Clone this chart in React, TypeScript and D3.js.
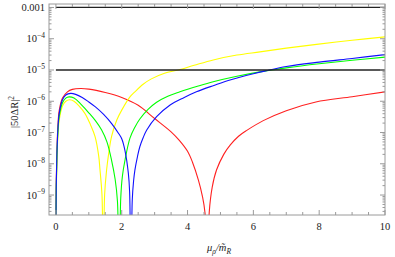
import { useEffect, useRef } from 'react';
import * as d3 from 'd3';

type Pt = [number, number];

// |50 ΔR|^2, [mu/m, value]
const redSeries: Pt[] = [
  [0.002, 1.26e-10], [0.01, 2.5e-9], [0.03, 2.5e-8], [0.06, 1.6e-7], [0.1, 5.0e-7],
  [0.2, 1.26e-6], [0.35, 2.0e-6], [0.5, 2.4e-6], [0.75, 2.57e-6], [1.0, 2.45e-6],
  [1.5, 1.9e-6], [2.0, 1.32e-6], [2.5, 7.4e-7], [3.0, 2.8e-7], [3.5, 1.05e-7],
  [3.75, 5.6e-8], [4.0, 2.5e-8], [4.15, 1.12e-8], [4.33, 3.0e-9], [4.45, 9.3e-10],
  [4.53, 2.7e-10], [4.6, 1e-12], [4.66, 2.9e-10], [4.75, 1.8e-9], [4.88, 6.3e-9],
  [5.1, 2.0e-8], [5.3, 4.0e-8], [5.55, 7.6e-8], [5.8, 1.17e-7], [6.3, 2.4e-7],
  [7.0, 5.0e-7], [7.9, 9.5e-7], [9.0, 1.4e-6], [10, 2.0e-6],
];

const blueSeries: Pt[] = [
  [0.002, 1e-10], [0.01, 2e-9], [0.03, 2e-8], [0.06, 1.26e-7], [0.1, 4e-7],
  [0.2, 1.12e-6], [0.3, 1.58e-6], [0.45, 1.78e-6], [0.6, 1.66e-6], [0.8, 1.32e-6],
  [1.0, 9.5e-7], [1.2, 6.6e-7], [1.45, 3.8e-7], [1.7, 1.9e-7], [1.9, 9.5e-8],
  [2.0, 6.3e-8], [2.1, 2.6e-8], [2.2, 5.1e-9], [2.24, 1.26e-9], [2.28, 1e-12],
  [2.32, 6.9e-10], [2.36, 2.8e-9], [2.4, 6.3e-9], [2.48, 1.74e-8], [2.55, 3.5e-8],
  [2.65, 6.8e-8], [2.76, 1.2e-7], [3.06, 3.2e-7], [3.47, 7.6e-7], [3.9, 1.32e-6],
  [4.27, 2e-6], [4.8, 3.2e-6], [5.29, 4.8e-6], [6.0, 7.6e-6], [6.4, 9.5e-6],
  [7.0, 1.29e-5], [8.0, 1.78e-5], [9.0, 2.34e-5], [10, 3.1e-5],
];

const greenSeries: Pt[] = [
  [0.002, 7.9e-11], [0.01, 1.58e-9], [0.03, 1.58e-8], [0.06, 1e-7], [0.1, 3.2e-7],
  [0.2, 8.9e-7], [0.3, 1.26e-6], [0.4, 1.38e-6], [0.55, 1.26e-6], [0.75, 8.3e-7],
  [0.98, 4.5e-7], [1.2, 2.4e-7], [1.39, 1.2e-7], [1.55, 5e-8], [1.69, 1.32e-8],
  [1.8, 3.2e-9], [1.87, 6.3e-10], [1.92, 1e-12], [1.97, 7.9e-10], [2.02, 4e-9],
  [2.1, 1.32e-8], [2.25, 6.6e-8], [2.4, 1.48e-7], [2.55, 2.7e-7], [2.8, 5.5e-7],
  [3.06, 9.3e-7], [3.4, 1.45e-6], [3.77, 2e-6], [4.3, 3e-6], [4.78, 4.2e-6],
  [5.5, 6.3e-6], [6.2, 8.7e-6], [7.0, 1.17e-5], [8.0, 1.58e-5], [9.0, 2.04e-5],
  [10, 2.57e-5],
];

const yellowSeries: Pt[] = [
  [0.002, 6.3e-11], [0.01, 1.26e-9], [0.03, 1.26e-8], [0.06, 7.9e-8], [0.1, 2.5e-7],
  [0.2, 7.1e-7], [0.3, 1e-6], [0.42, 1.12e-6], [0.55, 1e-6], [0.7, 7.1e-7],
  [0.88, 4.1e-7], [1.05, 1.78e-7], [1.19, 7.4e-8], [1.3, 1.78e-8], [1.34, 6.3e-9],
  [1.4, 1e-9], [1.44, 1e-12], [1.48, 1e-9], [1.54, 6.3e-9], [1.6, 2e-8],
  [1.69, 7.4e-8], [1.85, 2.5e-7], [2.0, 5.2e-7], [2.25, 1.38e-6], [2.4, 2e-6],
  [2.65, 3.5e-6], [2.9, 5.2e-6], [3.3, 7.9e-6], [3.72, 1.0e-5], [4.2, 1.41e-5],
  [4.78, 2.1e-5], [5.5, 3e-5], [6.2, 3.8e-5], [7.0, 5e-5], [7.92, 6.6e-5],
  [9.0, 8.9e-5], [10, 1.15e-4],
];

const seriesList = [
  { name: 'red', color: '#ff2020', data: redSeries },
  { name: 'yellow', color: '#ffff00', data: yellowSeries },
  { name: 'green', color: '#00ff00', data: greenSeries },
  { name: 'blue', color: '#1010ff', data: blueSeries },
];

const refLines = [1e-3, 1e-5];
const xTicks = [0, 2, 4, 6, 8, 10];
const yTicks = [1e-3, 1e-4, 1e-5, 1e-6, 1e-7, 1e-8, 1e-9];
const yTickExps = ['', '\u22124', '\u22125', '\u22126', '\u22127', '\u22128', '\u22129'];

export default function App() {
  const svgRef = useRef<SVGSVGElement>(null);
  const width = 395;
  const height = 257;

  useEffect(() => {
    if (!svgRef.current) return;
    const svg = d3.select(svgRef.current);
    svg.selectAll('*').remove();

    const left = 49, right = 385, top = 4, bottom = 215;
    const frameColor = '#9a9a9a';
    const font = 'Liberation Serif, Tinos, Times New Roman, Times, DejaVu Serif, serif';

    const x = d3.scaleLinear().domain([-0.21, 10]).range([left, right]);
    const y = d3.scaleLog().domain([2.3e-10, 1.29e-3]).range([bottom, top]);

    svg.append('defs').append('clipPath').attr('id', 'plotclip')
      .append('rect')
      .attr('x', left).attr('y', top)
      .attr('width', right - left).attr('height', bottom - top);

    const plot = svg.append('g').attr('clip-path', 'url(#plotclip)');

    // curves
    const line = d3.line<Pt>()
      .x(d => x(d[0]))
      .y(d => y(d[1]))
      .curve(d3.curveCatmullRom.alpha(0.5));

    seriesList.forEach(s => {
      plot.append('path')
        .attr('d', line(s.data) as string)
        .attr('fill', 'none')
        .attr('stroke', s.color)
        .attr('stroke-width', 1.1);
    });

    // horizontal reference lines
    plot.selectAll('line.ref')
      .data(refLines)
      .enter()
      .append('line')
      .attr('class', 'ref')
      .attr('x1', x(0)).attr('x2', x(10))
      .attr('y1', d => y(d)).attr('y2', d => y(d))
      .attr('stroke', '#222')
      .attr('stroke-width', 1.3);

    // frame
    svg.append('rect')
      .attr('x', left).attr('y', top)
      .attr('width', right - left).attr('height', bottom - top)
      .attr('fill', 'none')
      .attr('stroke', frameColor)
      .attr('stroke-width', 1);

    // x ticks (bottom + top, inward)
    const xMinor = d3.range(0, 10.01, 0.5);
    xMinor.forEach(v => {
      const major = Math.abs(v % 2) < 1e-6;
      const len = major ? 5 : 3;
      svg.append('line')
        .attr('x1', x(v)).attr('x2', x(v))
        .attr('y1', bottom).attr('y2', bottom - len)
        .attr('stroke', frameColor);
      svg.append('line')
        .attr('x1', x(v)).attr('x2', x(v))
        .attr('y1', top).attr('y2', top + len)
        .attr('stroke', frameColor);
    });

    // y ticks (left + right, inward)
    const yMinor: number[] = [];
    for (let e = -10; e <= -3; e++) {
      for (let m = 1; m <= 9; m++) {
        const v = m * Math.pow(10, e);
        if (v >= 2.3e-10 && v <= 1.29e-3) yMinor.push(v);
      }
    }
    yMinor.forEach(v => {
      const major = Math.abs(Math.log10(v) - Math.round(Math.log10(v))) < 1e-6;
      const len = major ? 5 : 2.5;
      svg.append('line')
        .attr('x1', left).attr('x2', left + len)
        .attr('y1', y(v)).attr('y2', y(v))
        .attr('stroke', frameColor);
      svg.append('line')
        .attr('x1', right).attr('x2', right - len)
        .attr('y1', y(v)).attr('y2', y(v))
        .attr('stroke', frameColor);
    });

    // x tick labels
    svg.selectAll('text.xt')
      .data(xTicks)
      .enter()
      .append('text')
      .attr('class', 'xt')
      .attr('x', d => x(d))
      .attr('y', 230)
      .attr('text-anchor', 'middle')
      .attr('font-family', font)
      .attr('font-size', 10.5)
      .attr('fill', '#222')
      .text(d => String(d));

    // y tick labels
    yTicks.forEach((v, i) => {
      const t = svg.append('text')
        .attr('x', 45)
        .attr('y', y(v) + 3.5)
        .attr('text-anchor', 'end')
        .attr('font-family', font)
        .attr('font-size', 10.5)
        .attr('fill', '#222');
      if (i === 0) {
        t.text('0.001');
      } else {
        t.append('tspan').text('10');
        t.append('tspan')
          .attr('dy', -4.5)
          .attr('font-size', 7.5)
          .text(yTickExps[i]);
      }
    });

    // axis labels
    const xl = svg.append('text')
      .attr('x', 219)
      .attr('y', 251)
      .attr('text-anchor', 'middle')
      .attr('font-family', font)
      .attr('font-style', 'italic')
      .attr('font-size', 10.5)
      .attr('fill', '#222');
    xl.append('tspan').text('\u03bc');
    xl.append('tspan').attr('dy', 2.5).attr('font-size', 7.5).text('\u03c1');
    xl.append('tspan').attr('dy', -2.5).text('/m\u0303');
    xl.append('tspan').attr('dy', 2.5).attr('font-size', 7.5).text('R');

    const yl = svg.append('text')
      .attr('transform', 'translate(18,112) rotate(-90)')
      .attr('text-anchor', 'middle')
      .attr('font-family', font)
      .attr('font-size', 10.5)
      .attr('fill', '#222');
    yl.append('tspan').text('|50\u0394R|');
    yl.append('tspan').attr('dy', -4.5).attr('font-size', 7.5).text('2');
  }, []);

  return (
    <svg
      ref={svgRef}
      width={width}
      height={height}
      style={{ position: 'absolute', left: 0, top: 0, background: '#fff' }}
    />
  );
}
